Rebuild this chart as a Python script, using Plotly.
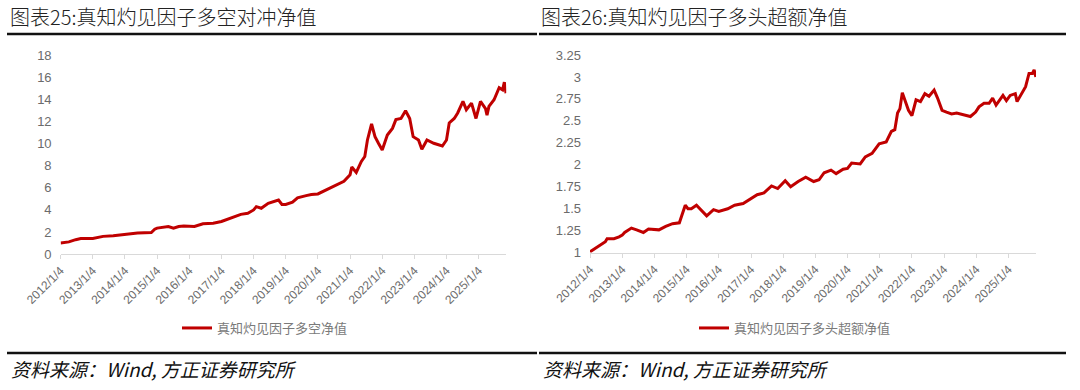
import plotly.graph_objects as go

# ---------------- data ----------------
ls_dates = ["2012-01-04","2012-04-07","2012-06-23","2012-08-20","2013-01-04","2013-04-30","2013-08-24",
            "2014-01-04","2014-05-27","2014-10-30","2014-12-08","2015-01-04","2015-05-12","2015-07-09",
            "2015-09-06","2015-11-03","2016-01-04","2016-03-03","2016-06-08","2016-10-02","2017-01-04",
            "2017-04-18","2017-08-12","2017-10-30","2018-01-04","2018-02-04","2018-04-01","2018-06-19",
            "2018-10-14","2018-11-22","2019-01-04","2019-03-22","2019-05-18","2019-08-24","2019-10-22",
            "2020-01-04","2020-04-14","2020-07-20","2020-10-26","2021-01-04","2021-01-23","2021-03-15",
            "2021-05-12","2021-06-20","2021-07-20","2021-09-05","2021-10-14","2021-11-22","2022-01-04",
            "2022-03-03","2022-04-30","2022-06-08","2022-08-05","2022-09-26","2022-11-12","2022-12-21",
            "2023-02-20","2023-03-30","2023-05-27","2023-08-12","2023-11-18","2024-01-04","2024-02-04",
            "2024-04-01","2024-05-10","2024-07-09","2024-08-16","2024-10-14","2024-12-04","2025-01-24",
            "2025-03-22","2025-04-08","2025-04-30","2025-06-27","2025-08-24","2025-10-02","2025-10-22",
            "2025-11-10"]
ls_values = [1.0, 1.1, 1.3, 1.4, 1.4, 1.6, 1.65,
             1.8, 1.9, 1.95, 2.25, 2.35, 2.5, 2.35,
             2.5, 2.55, 2.55, 2.5, 2.75, 2.8, 2.95,
             3.25, 3.6, 3.7, 4.0, 4.3, 4.15, 4.6,
             4.9, 4.5, 4.5, 4.7, 5.1, 5.3, 5.4,
             5.45, 5.85, 6.2, 6.6, 7.2, 7.9, 7.4,
             8.4, 8.85, 10.35, 11.8, 10.65, 10.05, 9.45,
             10.8, 11.4, 12.2, 12.3, 13.0, 12.3, 10.65,
             10.35, 9.5, 10.35, 10.05, 9.8, 10.35, 11.9,
             12.3, 12.8, 13.85, 13.1, 13.7, 12.3, 13.85,
             13.2, 12.6, 13.4, 14.0, 15.1, 14.9, 15.6,
             14.6]

ex_dates = ["2012-01-04","2012-03-02","2012-04-29","2012-06-26","2012-07-16","2012-10-02","2012-11-29",
            "2013-01-04","2013-01-31","2013-04-18","2013-06-16","2013-09-01","2013-10-29","2014-01-04",
            "2014-02-24","2014-05-12","2014-07-29","2014-10-14","2014-11-22","2014-12-20","2015-01-20",
            "2015-02-27","2015-04-26","2015-06-04","2015-08-20","2015-11-06","2016-01-04","2016-04-15",
            "2016-07-02","2016-10-07","2017-01-04","2017-03-15","2017-05-31","2017-08-25","2017-11-03",
            "2018-01-27","2018-03-30","2018-06-23","2018-09-17","2018-12-16","2019-02-15","2019-04-14",
            "2019-07-01","2019-08-28","2019-11-15","2020-01-04","2020-02-20","2020-05-27","2020-07-24",
            "2020-10-09","2020-12-28","2021-03-18","2021-05-16","2021-06-24","2021-07-25","2021-08-21",
            "2021-09-17","2021-10-18","2021-11-26","2022-01-04","2022-02-20","2022-04-11","2022-05-31",
            "2022-07-17","2022-09-13","2022-10-22","2022-12-12","2023-01-31","2023-03-30","2023-05-27",
            "2023-08-13","2023-10-30","2023-12-28","2024-02-04","2024-04-01","2024-05-29","2024-07-08",
            "2024-08-16","2024-11-02","2024-12-11","2025-01-23","2025-03-22","2025-04-11","2025-05-20",
            "2025-07-17","2025-08-25","2025-10-02","2025-10-22","2025-11-10"]
ex_values = [1.01, 1.05, 1.09, 1.125, 1.16, 1.16, 1.18,
             1.2, 1.23, 1.28, 1.26, 1.23, 1.27, 1.26,
             1.26, 1.30, 1.33, 1.34, 1.45, 1.54, 1.50,
             1.50, 1.54, 1.50, 1.42, 1.49, 1.47, 1.50,
             1.54, 1.56, 1.62, 1.66, 1.68, 1.76, 1.73,
             1.82, 1.75, 1.81, 1.86, 1.81, 1.83, 1.91,
             1.94, 1.90, 1.95, 1.96, 2.02, 2.01, 2.09,
             2.13, 2.24, 2.26, 2.38, 2.40, 2.59, 2.64,
             2.82, 2.72, 2.62, 2.56, 2.74, 2.72, 2.81,
             2.78, 2.85, 2.76, 2.62, 2.60, 2.58, 2.59,
             2.57, 2.55, 2.60, 2.66, 2.70, 2.70, 2.76,
             2.68, 2.79, 2.73, 2.79, 2.81, 2.72, 2.79,
             2.89, 3.04, 3.04, 3.08, 3.00]

year_ticks = ["2012-01-04","2013-01-04","2014-01-04","2015-01-04","2016-01-04","2017-01-04","2018-01-04",
              "2019-01-04","2020-01-04","2021-01-04","2022-01-04","2023-01-04","2024-01-04","2025-01-04"]
year_labels = ["2012/1/4","2013/1/4","2014/1/4","2015/1/4","2016/1/4","2017/1/4","2018/1/4",
               "2019/1/4","2020/1/4","2021/1/4","2022/1/4","2023/1/4","2024/1/4","2025/1/4"]

ls_yticks = [0, 2, 4, 6, 8, 10, 12, 14, 16, 18]
ex_yticks = [1, 1.25, 1.5, 1.75, 2, 2.25, 2.5, 2.75, 3, 3.25]
ex_ylabels = ["1", "1.25", "1.5", "1.75", "2", "2.25", "2.5", "2.75", "3", "3.25"]

title_left = "图表25:真知灼见因子多空对冲净值"
title_right = "图表26:真知灼见因子多头超额净值"
name_left = "真知灼见因子多空净值"
name_right = "真知灼见因子多头超额净值"
source_text = "<i>资料来源：Wind, 方正证券研究所</i>"

# ---------------- figure ----------------
W, H = 1080, 390
RED = "#C00000"
GRAY = "#6b6b6b"
TICKFONT = dict(family="Liberation Sans, Arial, sans-serif", size=12, color=GRAY)
YFONT = dict(family="Liberation Sans, Arial, sans-serif", size=13, color=GRAY)
CJK = "Noto Sans CJK SC, sans-serif"

fig = go.Figure()
fig.add_trace(go.Scatter(x=ls_dates, y=ls_values, mode="lines", name=name_left,
                         line=dict(color=RED, width=3), xaxis="x", yaxis="y", legend="legend"))
fig.add_trace(go.Scatter(x=ex_dates, y=ex_values, mode="lines", name=name_right,
                         line=dict(color=RED, width=3), xaxis="x2", yaxis="y2", legend="legend2"))

xcommon = dict(type="date", range=["2012-01-04", "2025-11-12"], tickmode="array",
               tickvals=year_ticks, ticktext=year_labels, tickangle=-45,
               showgrid=False, showline=True, linecolor="#d9d9d9", linewidth=1,
               ticks="outside", ticklen=4, tickcolor="#d9d9d9", tickfont=TICKFONT, zeroline=False,
               automargin=False)

fig.update_layout(
    width=W, height=H, margin=dict(l=0, r=0, t=0, b=0, autoexpand=False),
    paper_bgcolor="white", plot_bgcolor="white", showlegend=True,
    xaxis=dict(domain=[60.6 / W, 506.2 / W], anchor="y", **xcommon),
    yaxis=dict(domain=[1 - 254 / H, 1 - 55.7 / H], anchor="x", range=[0, 18],
               tickmode="array", tickvals=ls_yticks, showgrid=False, zeroline=False,
               showline=False, ticks="", tickfont=YFONT, ticklabelstandoff=8, automargin=False),
    xaxis2=dict(domain=[590 / W, 1036 / W], anchor="y2", **xcommon),
    yaxis2=dict(domain=[1 - 252.7 / H, 1 - 55 / H], anchor="x2", range=[1, 3.25],
                tickmode="array", tickvals=ex_yticks, ticktext=ex_ylabels, showgrid=False, zeroline=False,
                showline=False, ticks="", tickfont=YFONT, ticklabelstandoff=8, automargin=False),
    legend=dict(x=177 / W, y=1 - 328 / H, xanchor="left", yanchor="middle", orientation="h",
                font=dict(family=CJK, size=13, color="#7a7a7a"), bgcolor="rgba(0,0,0,0)"),
    legend2=dict(x=694 / W, y=1 - 328 / H, xanchor="left", yanchor="middle", orientation="h",
                 font=dict(family=CJK, size=13, color="#7a7a7a"), bgcolor="rgba(0,0,0,0)"),
)

# titles
for txt, x0 in [(title_left, 8), (title_right, 539)]:
    fig.add_annotation(text=txt, x=x0 / W, y=1 - 17 / H, xref="paper", yref="paper",
                       xanchor="left", yanchor="middle", showarrow=False,
                       font=dict(family=CJK, size=20, color="#222222", weight=300))
# sources
for x0 in [9, 541]:
    fig.add_annotation(text=source_text, x=x0 / W, y=1 - 368 / H, xref="paper", yref="paper",
                       xanchor="left", yanchor="middle", showarrow=False,
                       font=dict(family=CJK, size=19, color="#111111"))
# horizontal rules
for (xa, xb) in [(7, 537), (539, 1066)]:
    for yy in [34, 353]:
        fig.add_shape(type="line", xref="paper", yref="paper", x0=xa / W, x1=xb / W,
                      y0=1 - yy / H, y1=1 - yy / H, line=dict(color="#111111", width=2.5))

fig.write_html("out.html", config={"displayModeBar": False},
               post_script="document.body.style.margin='0px';document.body.style.overflow='hidden';")
